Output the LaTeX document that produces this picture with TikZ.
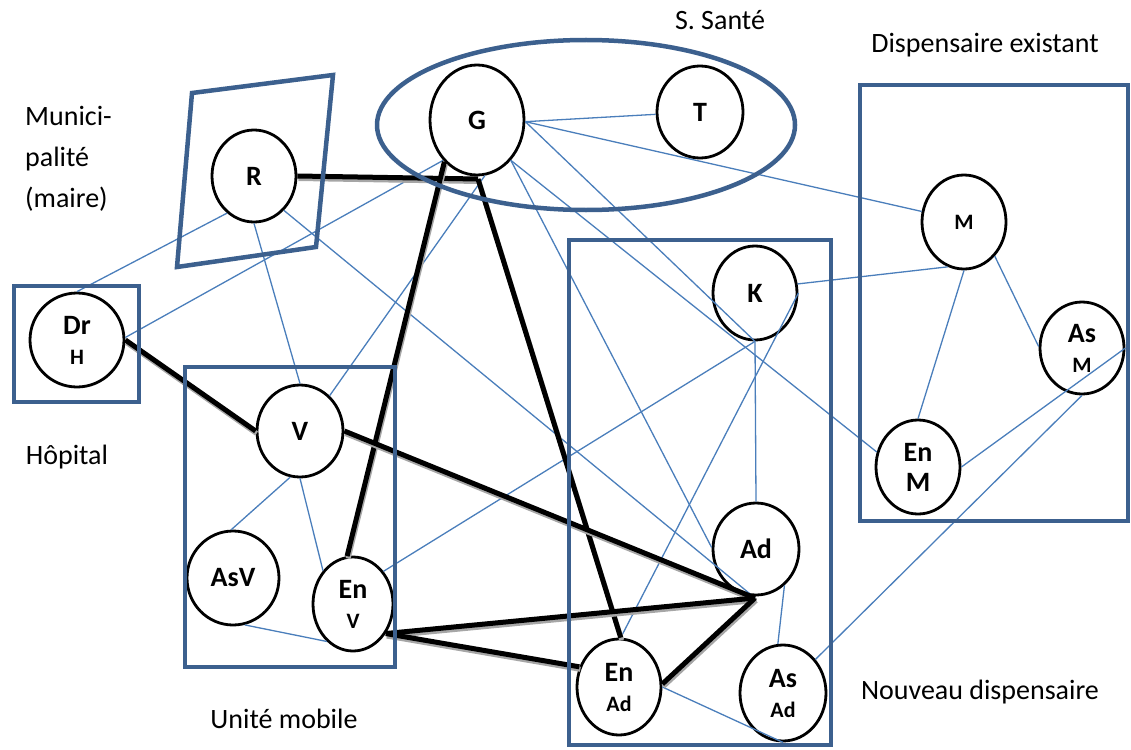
\documentclass[tikz,border=0pt]{standalone}
\usepackage{fontspec}
\setmainfont{Carlito}
\usetikzlibrary{shapes.geometric}
\definecolor{linkblue}{RGB}{74,126,187}
\definecolor{groupblue}{RGB}{60,96,142}
\newcommand\sublab[1]{{\fontsize{22}{22}\selectfont #1}}
\begin{document}
\begin{tikzpicture}[x=1pt,y=-1pt,
  actor/.style={ellipse, draw=black, line width=2.8pt, inner sep=0pt,
    minimum width=84, minimum height=93,
    font=\bfseries\fontsize{28}{32}\selectfont, align=center},
  link/.style={draw=linkblue, line width=1.3pt},
  strong/.style={draw=black, line width=5pt,
    preaction={draw=black!35, line width=5pt, transform canvas={xshift=1pt,yshift=-2.5pt}}},
  group/.style={draw=groupblue, line width=4.5pt},
  lbl/.style={font=\fontsize{28}{41}\selectfont, inner sep=0pt}]
\useasboundingbox (0,0) rectangle (1131,749);

% nodes
\node[actor, minimum width=84, minimum height=92] (R) at (254,176) {R};
\node[actor, minimum width=94, minimum height=110] (G) at (477,120) {G};
\node[actor, minimum width=86, minimum height=92] (T) at (700,112) {T};
\node[actor, minimum width=94, minimum height=94] (DrH) at (77,340) {Dr\\[-2pt]\sublab{H}};
\node[actor, minimum width=86, minimum height=92] (V) at (300,431) {V};
\node[actor, minimum width=92, minimum height=94] (AsV) at (233,578) {AsV};
\node[actor, minimum width=80, minimum height=94] (EnV) at (353,604) {En\\[-2pt]\sublab{V}};
\node[actor, minimum width=84, minimum height=94] (K) at (755,293) {K};
\node[actor, minimum width=86, minimum height=92] (Ad) at (756,549) {Ad};
\node[actor, minimum width=84, minimum height=96] (EnAd) at (619,687) {En\\[-2pt]\sublab{Ad}};
\node[actor, minimum width=86, minimum height=96] (AsAd) at (783,693) {As\\[-2pt]\sublab{Ad}};
\node[actor, minimum width=84, minimum height=94] (M) at (964,222) {\sublab{M}};
\node[actor, minimum width=84, minimum height=92] (AsM) at (1082,348) {As\\[-2pt]\sublab{M}};
\node[actor, minimum width=84, minimum height=94] (EnM) at (918,467) {En\\[-2pt]M};

\coordinate (gs) at (478,179);
\coordinate (adp) at (755,598);

% thin links
\draw[link] (G.-2) -- (T.183);
\draw[link] (G.-2) -- (M.166);
\draw[link] (G.-2) -- (K.south);
\draw[link] (G.-50) -- (EnM.160);
\draw[link] (G.-50) -- (Ad.178);
\draw[link] (R.-126) -- (DrH.north);
\draw[link] (R.south) -- (V.north);
\draw[link] (R.-49) -- (adp);
\draw[link] (DrH.3) -- (G.-130);
\draw[link] (G.-82) -- (V.50);
\draw[link] (V.-102) -- (AsV.92);
\draw[link] (V.south) -- (EnV.132);
\draw[link] (AsV.-76) -- (EnV.-125);
\draw[link] (EnV.47) -- (K.south);
\draw[link] (K.south) -- (Ad.north);
\draw[link] (K.12) -- (M.-110);
\draw[link] (K.east) -- (EnAd.88);
\draw[link] (Ad.-52) -- (AsAd.96);
\draw[link] (EnAd.east) -- (AsAd.south);
\draw[link] (AsAd.46) -- (AsM.south);
\draw[link] (EnM.east) -- (AsM.east);
\draw[link] (M.south) -- (EnM.north);
\draw[link] (M.-48) -- (AsM.178);

% strong links
\draw[strong] (R.east) -- (gs);
\draw[strong] (G.-128) -- (EnV.97);
\draw[strong] (gs) -- (EnAd.88);
\draw[strong] (DrH.east) -- (V.west);
\draw[strong] (V.east) -- (adp);
\draw[strong] (EnV.-42) -- (adp);
\draw[strong] (EnV.-42) -- (EnAd.153);
\draw[strong] (EnAd.4) -- (adp);

% groups
\draw[group] (192,93) -- (333,75) -- (316,247) -- (177,267) -- cycle;
\draw[group] (14,286) rectangle (139,402);
\draw[group] (185,367) rectangle (395,667);
\draw[group] (569,240) rectangle (831,745);
\draw[group] (860,85) rectangle (1128,521);
\draw[group] (586,125) ellipse [x radius=209, y radius=85];

% labels
\node[lbl] (ssante) at (720,20) {S. Santé};
\node[lbl] (dispex) at (985,45) {Dispensaire existant};
\node[lbl, align=left, anchor=north west] (muni) at (25,106) {Munici-\\palité\\(maire)};
\node[lbl] (hop) at (67,457) {Hôpital};
\node[lbl] (unite) at (284,719) {Unité mobile};
\node[lbl] (nouveau) at (980,692) {Nouveau dispensaire};
\end{tikzpicture}
\end{document}
